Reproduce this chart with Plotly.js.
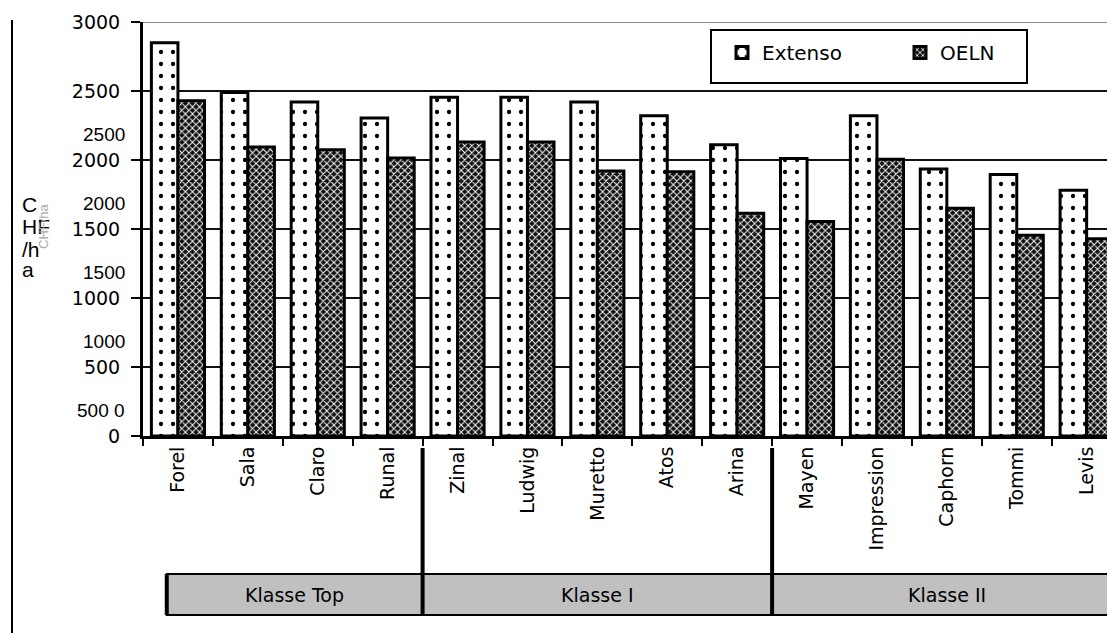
<!DOCTYPE html>
<html>
<head>
<meta charset="utf-8">
<script src="https://cdn.plot.ly/plotly-3.0.1.min.js"></script>
<style>html,body{margin:0;padding:0;background:#fff;}#chart{width:1107px;height:633px;}</style>
</head>
<body>
<div id="chart"></div>
<script>
const varieties = ["Forel","Sala","Claro","Runal","Zinal","Ludwig","Muretto","Atos","Arina","Mayen","Impression","Caphorn","Tommi","Levis"];
const extenso = [2850, 2490, 2420, 2305, 2455, 2455, 2420, 2320, 2110, 2010, 2320, 1935, 1895, 1780];
const oeln    = [2430, 2095, 2075, 2015, 2130, 2130, 1920, 1915, 1615, 1555, 2005, 1650, 1455, 1430];
const classNames = ["Klasse Top", "Klasse I", "Klasse II"];
const classSizes = [4, 5, 5];
const yTicks = [0, 500, 1000, 1500, 2000, 2500, 3000];
const ocrLabels = ["500 0", "1000", "1500", "2000", "2500"];
const ocrTickValues = [500, 1000, 1500, 2000, 2500];
const unitPieces = ["C", "HF", "/h", "a"];

const FONT = "DejaVu Sans, Verdana, sans-serif";
const ARIAL = "Liberation Sans, Arial, sans-serif";

const traces = [
  {
    type: "bar", name: "Extenso", x: varieties, y: extenso,
    marker: {
      color: "#ffffff",
      line: {color: "#000", width: 3},
      pattern: {shape: ".", fgcolor: "#000", bgcolor: "#fff", size: 12, solidity: 0.1}
    }
  },
  {
    type: "bar", name: "OELN", x: varieties, y: oeln,
    marker: {
      color: "#111",
      line: {color: "#000", width: 3},
      pattern: {shape: "x", fgcolor: "#fff", bgcolor: "#111", size: 5, solidity: 0.35}
    }
  }
];

const L = 143, T = 22, W = 1107, H = 633, PB = 436;
const pw = W - L, ph = PB - T;
const px = v => (v - L) / pw;
const py = v => (PB - v) / ph;

const shapes = [];
const annotations = [];

// top frame line
shapes.push({type: "line", xref: "paper", yref: "y", x0: 0, x1: 1, y0: 3000, y1: 3000, line: {color: "#888", width: 2}});

// class bands
let start = -0.5;
const bandTop = py(574), bandBot = py(615);
classSizes.forEach((n, i) => {
  const x0 = i === 0 ? start + 0.34 : start;
  const x1 = start + n;
  shapes.push({type: "rect", xref: "x", yref: "paper", x0: x0, x1: x1, y0: bandBot, y1: bandTop,
    fillcolor: "#c0c0c0", line: {color: "#000", width: 2}, layer: "above"});
  annotations.push({xref: "x", yref: "paper", x: (x0 + x1) / 2, y: (bandTop + bandBot) / 2,
    text: classNames[i], showarrow: false, font: {family: FONT, size: 19, color: "#000"}, xanchor: "center", yanchor: "middle"});
  if (i === 0) {
    shapes.push({type: "line", xref: "x", yref: "paper", x0: x0, x1: x0, y0: bandBot, y1: bandTop, line: {color: "#000", width: 4}});
  }
  if (i > 0) {
    shapes.push({type: "line", xref: "x", yref: "paper", x0: start, x1: start, y0: bandBot, y1: py(448), line: {color: "#000", width: 4}});
  }
  start = x1;
});

// left frame line
shapes.push({type: "line", xref: "paper", yref: "paper", x0: px(12), x1: px(12), y0: py(20), y1: py(640), line: {color: "#000", width: 2}});

// legend box
shapes.push({type: "rect", xref: "paper", yref: "paper", x0: px(711), x1: px(1027), y0: py(83), y1: py(30),
  line: {color: "#000", width: 2}, fillcolor: "#fff", layer: "above"});

// OCR overlay numbers
ocrLabels.forEach((t, i) => {
  annotations.push({xref: "paper", yref: "y", x: px(127), y: ocrTickValues[i], yshift: -43,
    text: t, showarrow: false, xanchor: "right", yanchor: "middle", font: {family: ARIAL, size: 19, color: "#000"}});
});
// unit pieces
const unitY = [205, 226, 249, 269];
unitPieces.forEach((t, i) => {
  annotations.push({xref: "paper", yref: "paper", x: px(20), y: py(unitY[i]), text: t, showarrow: false,
    xanchor: "left", yanchor: "middle", font: {family: ARIAL, size: 21, color: "#000"}});
});
annotations.push({xref: "paper", yref: "paper", x: px(43), y: py(226), text: "CHF/ha", showarrow: false, textangle: -90,
  xanchor: "center", yanchor: "middle", font: {family: ARIAL, size: 13, color: "#a8a8a8"}});

const layout = {
  width: W, height: H,
  margin: {l: L, r: 0, t: T, b: H - PB, pad: 0, autoexpand: false},
  paper_bgcolor: "#fff", plot_bgcolor: "#fff",
  barmode: "group", bargap: 0.24, bargroupgap: 0,
  showlegend: true,
  legend: {
    orientation: "h", x: px(722), y: py(33), xanchor: "left", yanchor: "top",
    bgcolor: "rgba(0,0,0,0)", borderwidth: 0,
    font: {family: FONT, size: 20, color: "#000"},
    entrywidth: 133, entrywidthmode: "pixels", traceorder: "normal"
  },
  xaxis: {
    type: "category", range: [-0.5, -0.5 + pw / 69.9], automargin: false,
    tickson: "boundaries", ticks: "outside", ticklen: 7, tickwidth: 2, tickcolor: "#000",
    showline: true, linecolor: "#000", linewidth: 3,
    tickangle: -90, tickfont: {family: FONT, size: 19, color: "#000"},
    showgrid: false, zeroline: false, fixedrange: true
  },
  yaxis: {
    range: [0, 3000], tickmode: "array", tickvals: yTicks, ticktext: yTicks.map(String), automargin: false,
    ticks: "outside", ticklen: 9, tickwidth: 2, tickcolor: "#000", ticklabelstandoff: 7,
    showline: true, linecolor: "#000", linewidth: 3,
    showgrid: true, gridcolor: "#111", gridwidth: 2,
    zeroline: false,
    tickfont: {family: FONT, size: 19, color: "#000"}, fixedrange: true
  },
  shapes: shapes,
  annotations: annotations
};

Plotly.newPlot("chart", traces, layout, {displayModeBar: false, staticPlot: true});
</script>
</body>
</html>
